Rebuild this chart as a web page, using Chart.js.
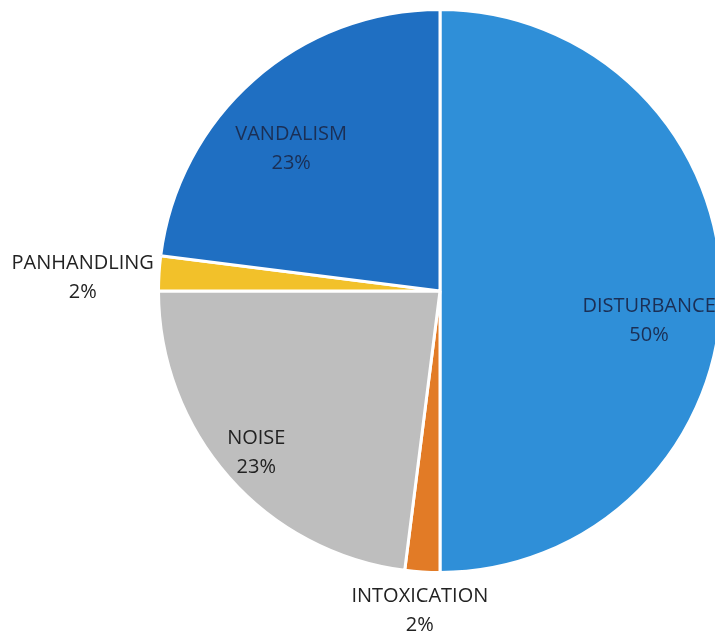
<!DOCTYPE html>
<html>
<head>
<meta charset="utf-8">
<script src="https://cdn.jsdelivr.net/npm/chart.js@4.4.0/dist/chart.umd.min.js"></script>
<style>
  html, body { margin: 0; padding: 0; background: #fff; overflow: hidden; }
  #wrap { position: relative; width: 760px; height: 637px; }
</style>
</head>
<body>
<div id="wrap"><canvas id="chart"></canvas></div>
<script>
// incident categories and their shares (%)
const categories = ['DISTURBANCE', 'INTOXICATION', 'NOISE', 'PANHANDLING', 'VANDALISM'];
const shares = [50, 2, 23, 2, 23];
const sliceColors = ['#2f8fd8', '#e27b26', '#bebebe', '#f2c12a', '#1f6fc2'];

// where each label sits: fraction of radius, angle nudge in degrees, text colour
const labelPlace = [
  { r: 0.75, nudge: 8, color: '#1b2f55' },
  { r: 1.14, nudge: 0, color: '#222' },
  { r: 0.87, nudge: 0, color: '#222' },
  { r: 1.27, nudge: -1.5, color: '#222' },
  { r: 0.73, nudge: -5, color: '#1b2f55' }
];

const pieLabels = {
  id: 'pieLabels',
  afterDatasetsDraw(chart) {
    const ctx = chart.ctx;
    const meta = chart.getDatasetMeta(0);
    ctx.save();
    ctx.font = '20px "Open Sans", sans-serif';
    ctx.textAlign = 'center';
    ctx.textBaseline = 'middle';
    meta.data.forEach((arc, i) => {
      const p = labelPlace[i];
      const mid = (arc.startAngle + arc.endAngle) / 2 + p.nudge * Math.PI / 180;
      const rr = arc.outerRadius * p.r;
      const x = arc.x + Math.cos(mid) * rr;
      const y = arc.y + Math.sin(mid) * rr;
      ctx.fillStyle = p.color;
      ctx.fillText(categories[i], x, y - 14.5);
      ctx.fillText(shares[i] + '%', x, y + 14.5);
    });
    ctx.restore();
  }
};

new Chart(document.getElementById('chart'), {
  type: 'pie',
  data: {
    labels: categories,
    datasets: [{
      data: shares,
      backgroundColor: sliceColors,
      borderColor: '#ffffff',
      borderWidth: 3
    }]
  },
  options: {
    responsive: true,
    maintainAspectRatio: false,
    animation: false,
    layout: { padding: { left: 157, right: 37, top: 8, bottom: 63 } },
    plugins: {
      legend: { display: false },
      tooltip: { enabled: false }
    }
  },
  plugins: [pieLabels]
});
</script>
</body>
</html>
